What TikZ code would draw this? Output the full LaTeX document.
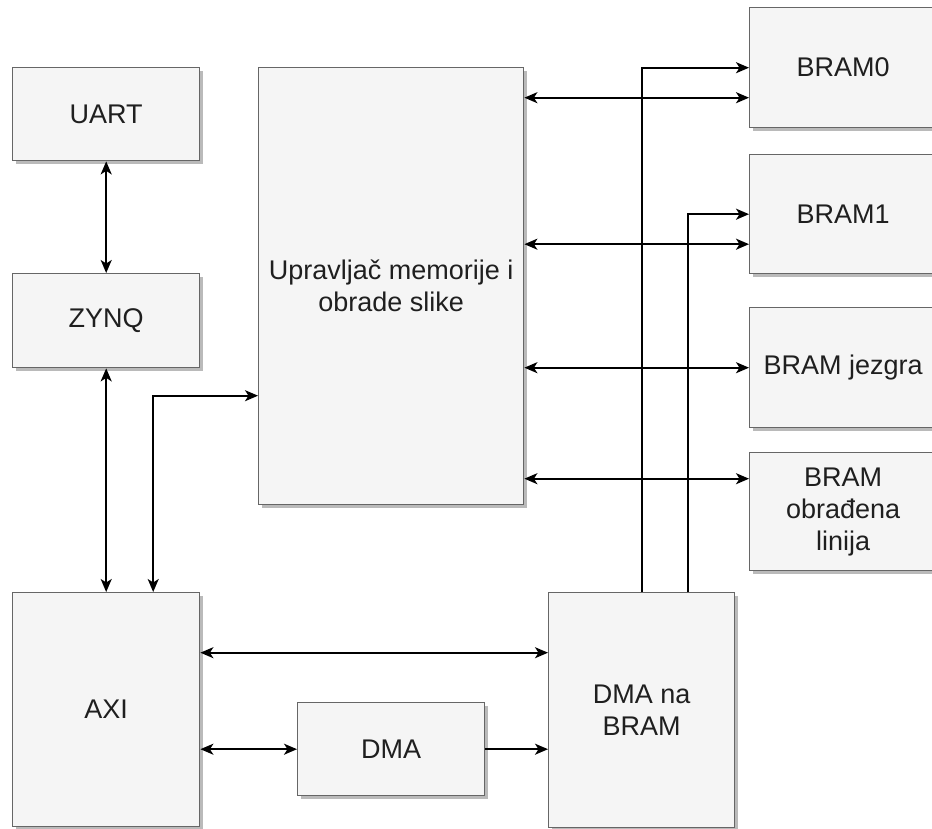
\documentclass[tikz,border=0pt]{standalone}
\usepackage{fontspec}
\setmainfont{Liberation Sans}
\usetikzlibrary{arrows.meta,shadows}
\definecolor{boxfill}{HTML}{F5F5F5}
\definecolor{boxline}{HTML}{666666}
\definecolor{txt}{HTML}{1F1F1F}
\begin{document}
\begin{tikzpicture}[x=1pt,y=-1pt,
  blk/.style={draw=boxline, fill=boxfill, line width=1.4pt, inner sep=0pt,
    anchor=north west, align=center, text=txt,
    font=\fontsize{27}{32}\selectfont,
    drop shadow={shadow xshift=3pt, shadow yshift=-3pt, fill=black!45, opacity=0.6}},
  conn/.style={draw=black, line width=1.7pt},
  >={Stealth[length=13pt,width=11pt,inset=3.5pt]}]
\useasboundingbox (0,0) rectangle (932,829);
\clip (0,0) rectangle (932,829);
\fill[white] (0,0) rectangle (932,829);

\node[blk, minimum width=187pt, minimum height=93pt] (uart) at (12,67) {UART};
\node[blk, minimum width=187pt, minimum height=94pt] (zynq) at (12,273) {ZYNQ};
\node[blk, minimum width=187pt, minimum height=234pt] (axi) at (12,592) {AXI};
\node[blk, minimum width=265pt, minimum height=437pt] (upr) at (258,67) {Upravljač memorije i\\obrade slike};
\node[blk, minimum width=187pt, minimum height=120pt] (b0) at (749,7) {BRAM0};
\node[blk, minimum width=187pt, minimum height=119pt] (b1) at (749,154) {BRAM1};
\node[blk, minimum width=187pt, minimum height=120pt] (bj) at (749,307) {BRAM jezgra};
\node[blk, minimum width=187pt, minimum height=118pt] (bo) at (749,452) {BRAM\\obrađena\\linija};
\node[blk, minimum width=186pt, minimum height=235pt] (dmab) at (548,592) {DMA na\\BRAM};
\node[blk, minimum width=187pt, minimum height=93pt] (dma) at (297,702) {DMA};

\draw[conn,<->] (uart.south) -- (zynq.north);
\draw[conn,<->] (zynq.south) -- (axi.north);
\coordinate (axiup) at ([xshift=47pt]axi.north);
\coordinate (uprin) at ([yshift=-109.5pt]upr.west);
\draw[conn,<->] (axiup) |- (uprin);

\coordinate (b0in) at ([yshift=-30pt]b0.west);
\coordinate (b1in) at ([yshift=-30pt]b1.west);
\coordinate (boin) at ([yshift=33pt]bo.west);
\draw[conn,<->] (upr.east |- b0in) -- (b0in);
\draw[conn,<->] (upr.east |- b1in) -- (b1in);
\draw[conn,<->] (upr.east |- bj.west) -- (bj.west);
\draw[conn,<->] (upr.east |- boin) -- (boin);

\coordinate (dmabup) at ([xshift=46pt]dmab.north);
\draw[conn,->] (dmab.north) |- (b0.west);
\draw[conn,->] (dmabup) |- (b1.west);

\coordinate (axiout) at ([yshift=57pt]axi.east);
\draw[conn,<->] (axiout) -- (dmab.west |- axiout);
\draw[conn,<->] (axi.east |- dma.west) -- (dma.west);
\draw[conn,->] (dma.east) -- (dmab.west |- dma.east);
\end{tikzpicture}
\end{document}
